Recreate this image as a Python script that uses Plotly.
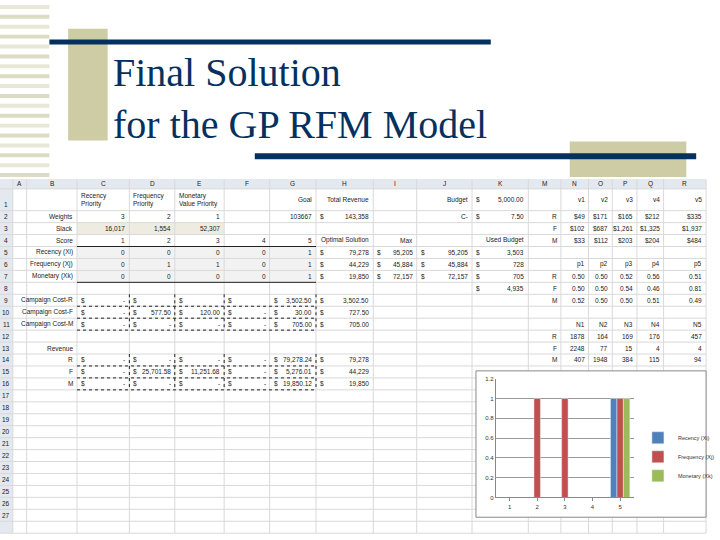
import plotly.graph_objects as go

# spreadsheet contents (left block, rows 1-27)
col_b = ["", "Weights", "Slack", "Score", "Recency (Xi)", "Frequency (Xj)", "Monetary (Xk)", "",
         "Campaign Cost-R", "Campaign Cost-F", "Campaign Cost-M", "", "Revenue", "R", "F", "M"]
col_c = ["Recency<br>Priority", "3", "16,017", "1", "0", "0", "0", "", "$ -", "$ -", "$ -",
         "", "", "$ -", "$ -", "$ -"]
col_d = ["Frequency<br>Priority", "2", "1,554", "2", "0", "1", "0", "", "$", "$ 577.50", "$ -",
         "", "", "$ -", "$ 25,701.58", "$ -"]
col_e = ["Monetary<br>Value Priority", "1", "52,307", "3", "0", "1", "0", "", "$", "$ 120.00", "$ -",
         "", "", "$ -", "$ 11,251.68", "$ -"]
col_f = ["", "", "", "4", "0", "0", "0", "", "$", "$ -", "$ -",
         "", "", "$ -", "$ -", "$ -"]
col_g = ["Goal", "103667", "", "5", "1", "1", "1", "", "$ 3,502.50", "$ 30.00", "$ 705.00",
         "", "", "$ 79,278.24", "$ 5,276.01", "$ 19,850.12"]
col_h = ["Total Revenue", "$ 143,358", "", "Optimal Solution", "$ 79,278", "$ 44,229", "$ 19,850", "",
         "$ 3,502.50", "$ 727.50", "$ 705.00", "", "", "$ 79,278", "$ 44,229", "$ 19,850"]
col_i = ["", "", "", "Max", "$ 95,205", "$ 45,884", "$ 72,157"]
col_j = ["Budget", "C-", "", "", "$ 95,205", "$ 45,884", "$ 72,157"]

# right block (rows 1-14)
col_k = ["$ 5,000.00", "$ 7.50", "", "Used Budget", "$ 3,503", "$ 728", "$ 705", "$ 4,935"]
col_m = ["", "R", "F", "M", "", "", "R", "F", "M", "", "", "R", "F", "M"]
col_n = ["v1", "$49", "$102", "$33", "", "p1", "0.50", "0.50", "0.52", "", "N1", "1878", "2248", "407"]
col_o = ["v2", "$171", "$687", "$112", "", "p2", "0.50", "0.50", "0.50", "", "N2", "164", "77", "1948"]
col_p = ["v3", "$165", "$1,261", "$203", "", "p3", "0.52", "0.54", "0.50", "", "N3", "169", "15", "384"]
col_q = ["v4", "$212", "$1,325", "$204", "", "p4", "0.56", "0.46", "0.51", "", "N4", "176", "4", "115"]
col_r = ["v5", "$335", "$1,937", "$484", "", "p5", "0.51", "0.81", "0.49", "", "N5", "457", "4", "94"]

col_letters = ["A", "B", "C", "D", "E", "F", "G", "H", "I", "J", "K", "M", "N", "O", "P", "Q", "R"]

# chart data
scores = ["1", "2", "3", "4", "5"]
recency = [0, 0, 0, 0, 1]
frequency = [0, 1, 1, 0, 1]
monetary = [0, 0, 0, 0, 1]

W, H = 720, 540
# sheet geometry in pixels
edges = [13, 27, 78, 131, 177, 227, 273, 320, 378, 422, 478, 535, 568, 596, 620, 645, 672, 715]
TOP, HEAD = 178, 10
row_tops = [TOP + HEAD, TOP + HEAD + 22] + [TOP + HEAD + 22 + 12.08 * k for k in range(1, 27)]


def px(x):
    return x / W


def py(y):
    return 1 - y / H


fig = go.Figure()
shapes, notes = [], []
font = dict(family="Liberation Sans Narrow, Liberation Sans", size=6.5, color="#222")


def rect(x0, x1, y0, y1, color, layer="below", line=None):
    shapes.append(dict(type="rect", xref="paper", yref="paper", x0=px(x0), x1=px(x1), y0=py(y1), y1=py(y0),
                       fillcolor=color, line=line or dict(width=0), layer=layer))


def hline(x0, x1, y, color, width=1, dash="solid"):
    shapes.append(dict(type="line", xref="paper", yref="paper", x0=px(x0), x1=px(x1), y0=py(y), y1=py(y),
                       line=dict(color=color, width=width, dash=dash), layer="below"))


def vline(x, y0, y1, color, width=1, dash="solid"):
    shapes.append(dict(type="line", xref="paper", yref="paper", x0=px(x), x1=px(x), y0=py(y0), y1=py(y1),
                       line=dict(color=color, width=width, dash=dash), layer="below"))


def text(s, x, y, anchor):
    notes.append(dict(text=s, x=px(x), y=py(y), xref="paper", yref="paper", xanchor=anchor, yanchor="middle",
                      showarrow=False, font=font, align="left"))


# striped band on the left
for i in range(18):
    rect(0, 50, i * 10 + 2, i * 10 + 6, "#dcdcc4" if i % 2 else "#e8e8d6")
rect(69, 109, 26, 139, "#cdcca4")
rect(577, 695, 140, 176, "#cdcca4")
rect(50, 497, 37, 42, "#05315f", layer="above")
rect(258, 705, 152, 158, "#05315f", layer="above")

# header band and row-number column
bottom = row_tops[-1] + 12.08
rect(0, 715, TOP, TOP + HEAD, "#e4e8ef")
rect(0, 13, TOP + HEAD, bottom, "#e4e8ef")
rect(78, 227, row_tops[2], row_tops[3], "#eeece1")
rect(78, 320, row_tops[4], row_tops[7], "#f2f2f2")

# grid
for yb in [TOP + HEAD] + row_tops[1:] + [bottom]:
    hline(0, 715, yb, "#d9d9d9")
for xe in edges:
    vline(xe, TOP, bottom, "#d9d9d9")
for r in (3, 6):
    hline(78, 320, row_tops[r + 1], "#222")
for r in (8, 9, 10, 13, 14, 15):
    hline(78, 320, row_tops[r + 1], "#222", dash="dot")
for xe in (131, 177, 227, 320):
    vline(xe, row_tops[8], row_tops[11], "#222", dash="dot")
    vline(xe, row_tops[13], row_tops[16], "#222", dash="dot")

# column letters and row numbers
for i, c in enumerate(col_letters):
    text(c, (edges[i] + edges[i + 1]) / 2, TOP + HEAD / 2, "center")
for r in range(27):
    text(str(r + 1), 6.5, row_tops[r] + (16 if r == 0 else 6), "center")


def fill_column(values, ci, align):
    x0, x1 = edges[ci], edges[ci + 1]
    for r, s in enumerate(values):
        if not s:
            continue
        y = row_tops[r] + (11 if r == 0 else 6)
        if s.startswith("$ "):
            text("$", x0 + 2, y, "left")
            text(s[2:], x1 - 2, y, "right")
        elif s == "$":
            text("$", x0 + 2, y, "left")
        elif align == "left":
            text(s, x0 + 2, y, "left")
        else:
            text(s, x1 - 2, y, "right")


fill_column(col_b, 1, "right")
for ci, col in zip(range(2, 5), (col_c, col_d, col_e)):
    fill_column(col[:1], ci, "left")
    fill_column([""] + col[1:], ci, "right")
for ci, col in zip(range(5, 17), (col_f, col_g, col_h, col_i, col_j, col_k, col_m, col_n, col_o, col_p,
                                    col_q, col_r)):
    fill_column(col, ci, "right")

# chart area frame, drawn over the grid
rect(482, 715, 372, 520, "white", line=dict(color="#888", width=1))

fig.add_trace(go.Bar(x=scores, y=recency, name="Recency (Xi)", marker_color="#4f81bd"))
fig.add_trace(go.Bar(x=scores, y=frequency, name="Frequency (Xj)", marker_color="#c0504d"))
fig.add_trace(go.Bar(x=scores, y=monetary, name="Monetary (Xk)", marker_color="#9bbb59"))

notes.append(dict(text="Final Solution<br>for the GP RFM Model", xref="paper", yref="paper",
                  x=px(112), y=py(45), xanchor="left", yanchor="top", align="left", showarrow=False,
                  font=dict(family="Liberation Serif", size=40, color="#05315f")))

fig.update_layout(
    width=W, height=H, margin=dict(l=0, r=0, t=0, b=0),
    paper_bgcolor="white", plot_bgcolor="rgba(0,0,0,0)",
    barmode="group", bargap=0.3, bargroupgap=0,
    shapes=shapes, annotations=notes,
    xaxis=dict(domain=[px(502), px(642)], anchor="y", showline=True, linecolor="#888", ticks="outside",
               ticklen=3, tickcolor="#888", tickfont=dict(size=6, family="Liberation Sans", color="#333")),
    yaxis=dict(domain=[py(500), py(380)], anchor="x", range=[0, 1.2], dtick=0.2,
               showgrid=True, gridcolor="#999", gridwidth=1, showline=True, linecolor="#888",
               tickfont=dict(size=6, family="Liberation Sans", color="#333"), zeroline=False),
    legend=dict(x=px(646), y=py(425), xanchor="left", yanchor="top",
                font=dict(size=5.5, family="Liberation Sans", color="#333"), bgcolor="rgba(0,0,0,0)",
                itemwidth=30, tracegroupgap=2),
)

fig.write_html("out.html", config={"displayModeBar": False},
               post_script="document.body.style.margin='0';")
